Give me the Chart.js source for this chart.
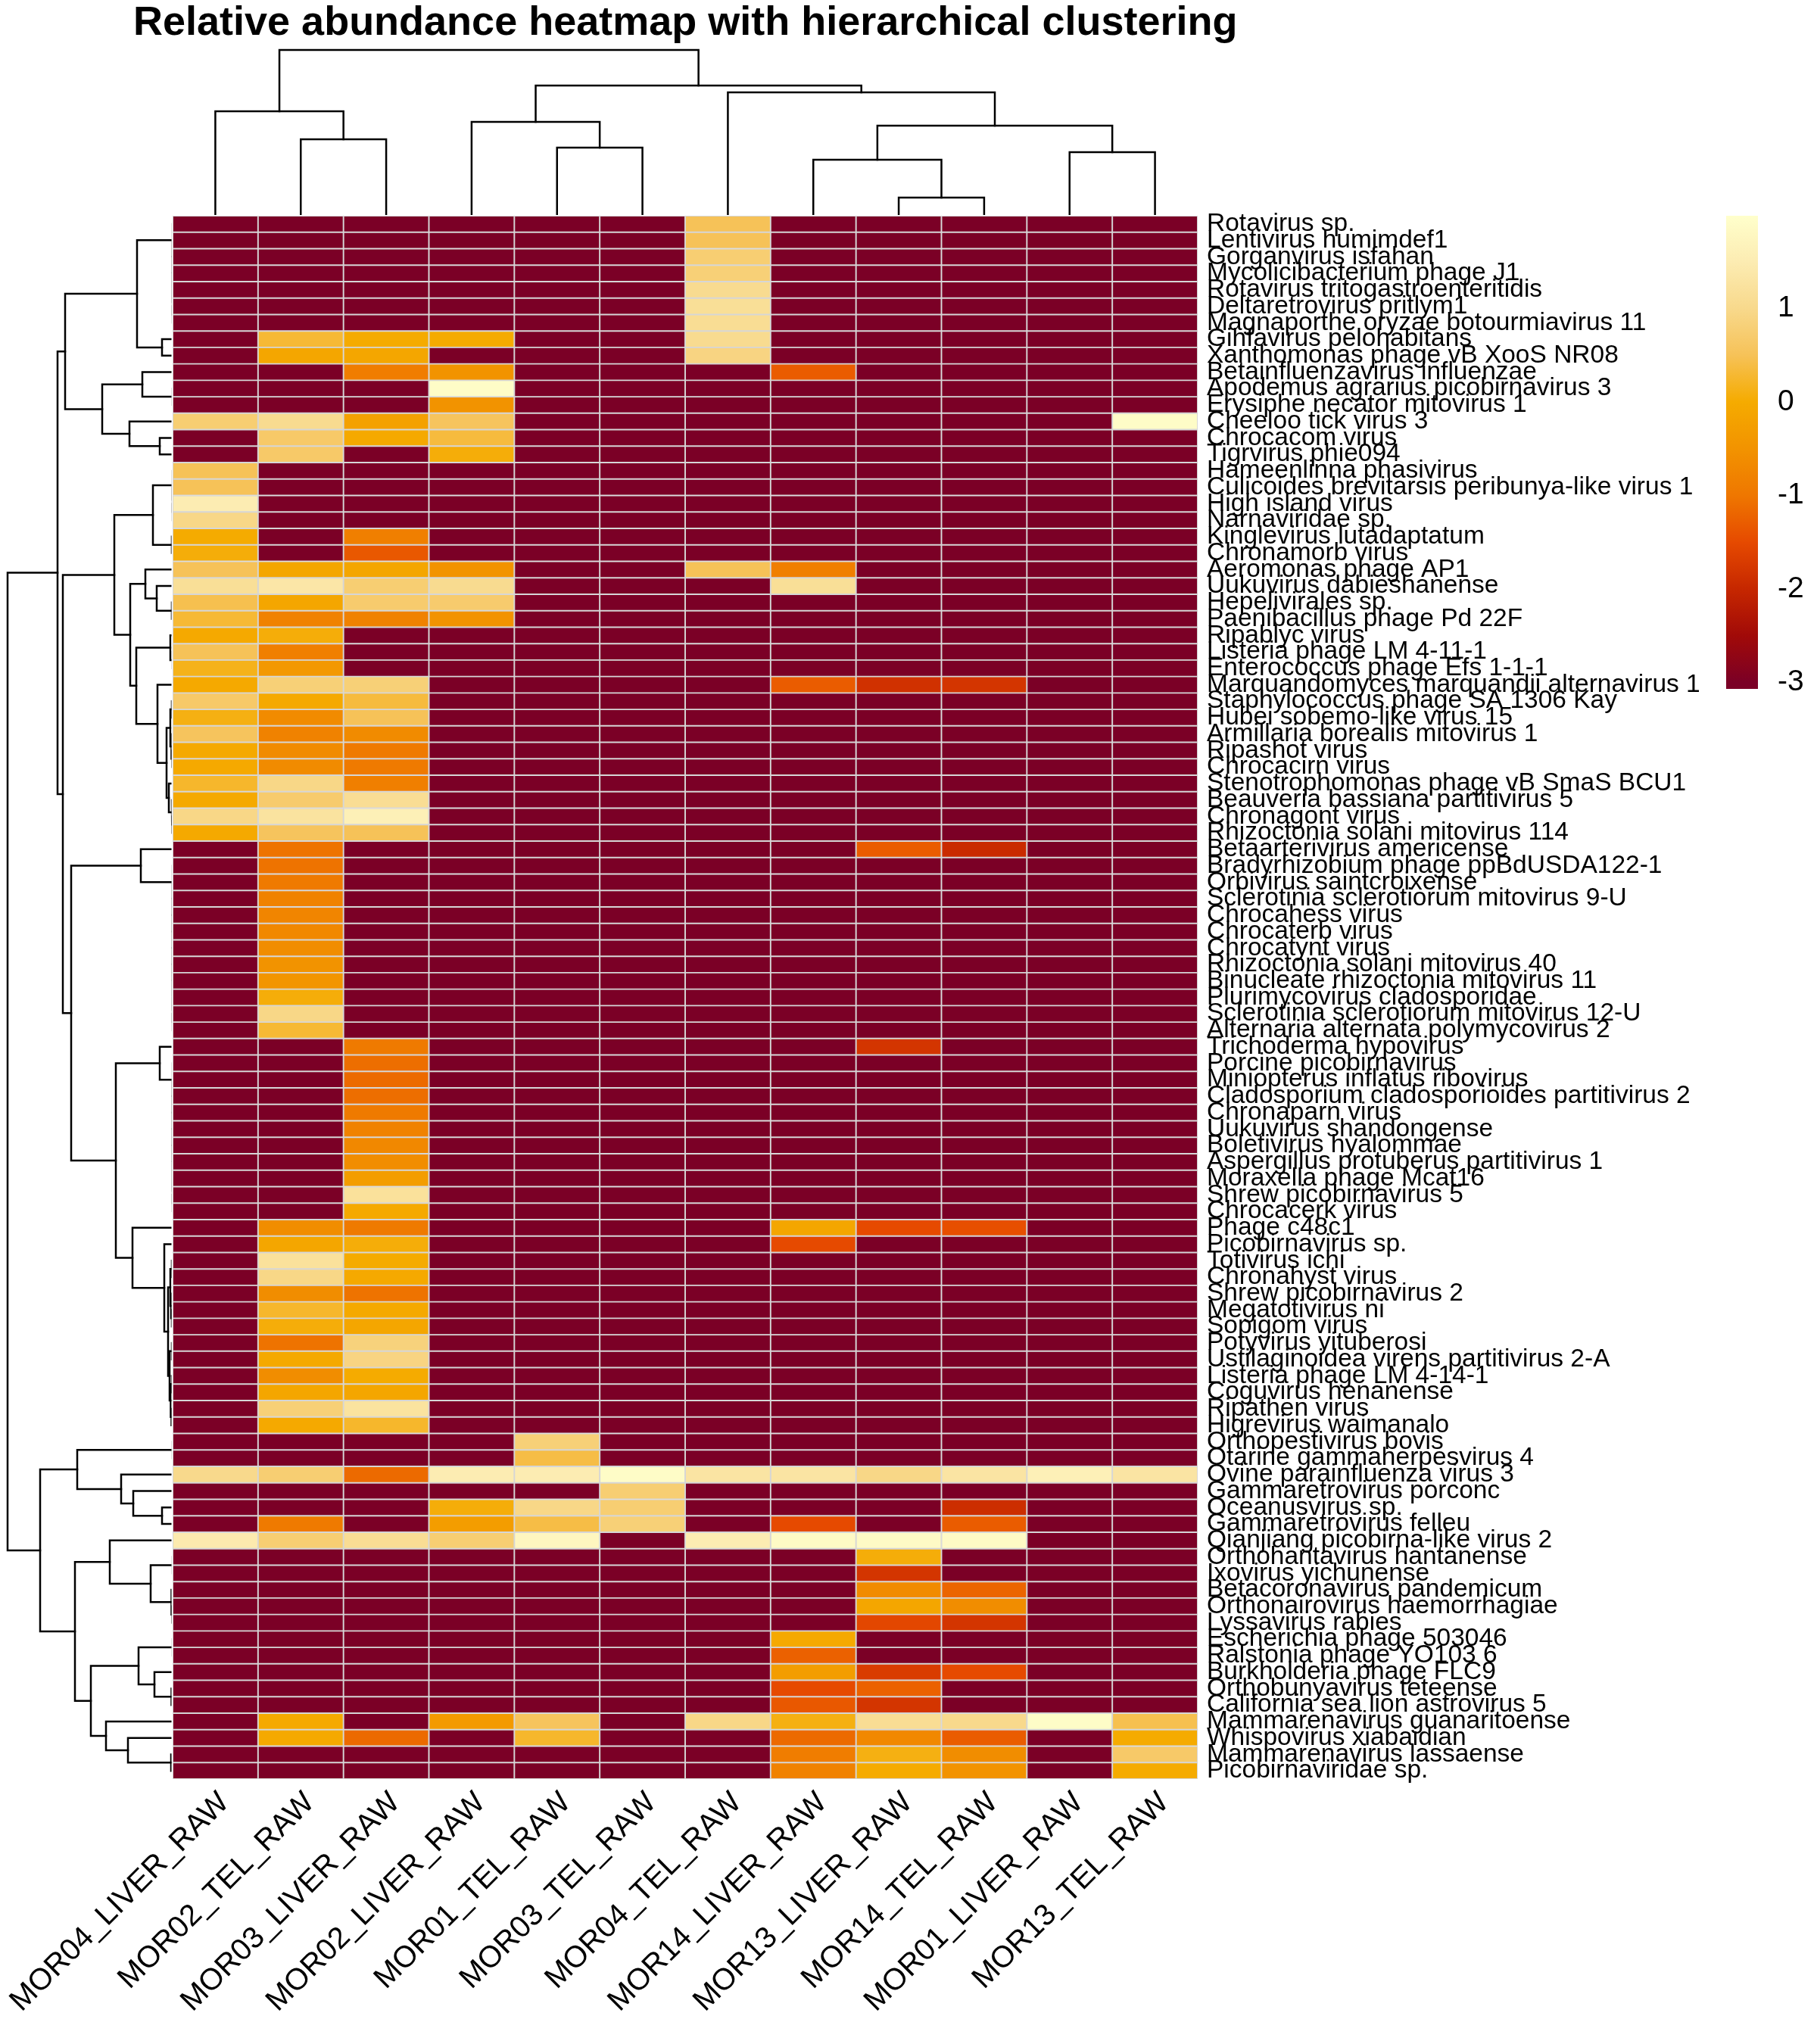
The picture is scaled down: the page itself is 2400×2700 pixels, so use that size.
<!DOCTYPE html>
<html><head><meta charset="utf-8">
<script src="https://cdn.jsdelivr.net/npm/chart.js@4.4.1/dist/chart.umd.min.js"></script>
<style>
html,body{margin:0;padding:0;background:#fff;}
#wrap{position:relative;width:2400px;height:2700px;overflow:hidden;background:#fff;}
canvas{position:absolute;}
#title{position:absolute;left:176px;top:0;font:bold 54px/54px 'Liberation Sans',Arial,sans-serif;color:#000;white-space:nowrap;}
</style></head><body>
<div id="wrap">
<canvas id="rowDendro" width="240" height="2700" style="left:0;top:0"></canvas>
<canvas id="colDendro" width="1600" height="290" style="left:0;top:0"></canvas>
<canvas id="heat" width="2400" height="2700" style="left:0;top:0"></canvas>
<canvas id="legend" width="200" height="1000" style="left:2200px;top:0"></canvas>
<div id="title">Relative abundance heatmap with hierarchical clustering</div>
</div>
<script>
const sampleLabels = ['MOR04_LIVER_RAW','MOR02_TEL_RAW','MOR03_LIVER_RAW','MOR02_LIVER_RAW','MOR01_TEL_RAW','MOR03_TEL_RAW','MOR04_TEL_RAW','MOR14_LIVER_RAW','MOR13_LIVER_RAW','MOR14_TEL_RAW','MOR01_LIVER_RAW','MOR13_TEL_RAW'];

const rowLabels = ['Rotavirus sp.','Lentivirus humimdef1','Gorganvirus isfahan','Mycolicibacterium phage J1','Rotavirus tritogastroenteritidis','Deltaretrovirus pritlym1','Magnaporthe oryzae botourmiavirus 11','Gihfavirus pelohabitans','Xanthomonas phage vB XooS NR08','Betainfluenzavirus influenzae','Apodemus agrarius picobirnavirus 3','Erysiphe necator mitovirus 1','Cheeloo tick virus 3','Chrocacom virus','Tigrvirus phie094','Hameenlinna phasivirus','Culicoides brevitarsis peribunya-like virus 1','High island virus','Narnaviridae sp.','Kinglevirus lutadaptatum','Chronamorb virus','Aeromonas phage AP1','Uukuvirus dabieshanense','Hepelivirales sp.','Paenibacillus phage Pd 22F','Ripablyc virus','Listeria phage LM 4-11-1','Enterococcus phage Efs 1-1-1','Marquandomyces marquandii alternavirus 1','Staphylococcus phage SA 1306 Kay','Hubei sobemo-like virus 15','Armillaria borealis mitovirus 1','Ripashot virus','Chrocacirn virus','Stenotrophomonas phage vB SmaS BCU1','Beauveria bassiana partitivirus 5','Chronagont virus','Rhizoctonia solani mitovirus 114','Betaarterivirus americense','Bradyrhizobium phage ppBdUSDA122-1','Orbivirus saintcroixense','Sclerotinia sclerotiorum mitovirus 9-U','Chrocahess virus','Chrocaterb virus','Chrocatynt virus','Rhizoctonia solani mitovirus 40','Binucleate rhizoctonia mitovirus 11','Plurimycovirus cladosporidae','Sclerotinia sclerotiorum mitovirus 12-U','Alternaria alternata polymycovirus 2','Trichoderma hypovirus','Porcine picobirnavirus','Miniopterus inflatus ribovirus','Cladosporium cladosporioides partitivirus 2','Chronaparn virus','Uukuvirus shandongense','Boletivirus hyalommae','Aspergillus protuberus partitivirus 1','Moraxella phage Mcat16','Shrew picobirnavirus 5','Chrocacerk virus','Phage c48c1','Picobirnavirus sp.','Totivirus ichi','Chronahyst virus','Shrew picobirnavirus 2','Megatotivirus ni','Sopigom virus','Potyvirus yituberosi','Ustilaginoidea virens partitivirus 2-A','Listeria phage LM 4-14-1','Coguvirus henanense','Ripathen virus','Higrevirus waimanalo','Orthopestivirus bovis','Otarine gammaherpesvirus 4','Ovine parainfluenza virus 3','Gammaretrovirus porconc','Oceanusvirus sp.','Gammaretrovirus felleu','Qianjiang picobirna-like virus 2','Orthohantavirus hantanense','Ixovirus yichunense','Betacoronavirus pandemicum','Orthonairovirus haemorrhagiae','Lyssavirus rabies','Escherichia phage 503046','Ralstonia phage YO103 6','Burkholderia phage FLC9','Orthobunyavirus teteense','California sea lion astrovirus 5','Mammarenavirus guanaritoense','Whispovirus xiabaidian','Mammarenavirus lassaense','Picobirnaviridae sp.'];

// one row of 12 sample values per virus (same order as rowLabels / sampleLabels)
const abundance = [
[-3,-3,-3,-3,-3,-3,0.5,-3,-3,-3,-3,-3],
[-3,-3,-3,-3,-3,-3,0.5,-3,-3,-3,-3,-3],
[-3,-3,-3,-3,-3,-3,0.75,-3,-3,-3,-3,-3],
[-3,-3,-3,-3,-3,-3,0.8,-3,-3,-3,-3,-3],
[-3,-3,-3,-3,-3,-3,1.05,-3,-3,-3,-3,-3],
[-3,-3,-3,-3,-3,-3,1.15,-3,-3,-3,-3,-3],
[-3,-3,-3,-3,-3,-3,1.1,-3,-3,-3,-3,-3],
[-3,0.3,0,0,-3,-3,1.05,-3,-3,-3,-3,-3],
[-3,-0.1,-0.1,-3,-3,-3,0.9,-3,-3,-3,-3,-3],
[-3,-3,-0.9,-0.5,-3,-3,-3,-1.3,-3,-3,-3,-3],
[-3,-3,-3,1.9,-3,-3,-3,-3,-3,-3,-3,-3],
[-3,-3,-3,-0.5,-3,-3,-3,-3,-3,-3,-3,-3],
[0.75,1.05,-0.2,0.55,-3,-3,-3,-3,-3,-3,-3,1.9],
[-3,0.65,-0.05,0.35,-3,-3,-3,-3,-3,-3,-3,-3],
[-3,0.65,-3,0.05,-3,-3,-3,-3,-3,-3,-3,-3],
[0.5,-3,-3,-3,-3,-3,-3,-3,-3,-3,-3,-3],
[0.5,-3,-3,-3,-3,-3,-3,-3,-3,-3,-3,-3],
[1.5,-3,-3,-3,-3,-3,-3,-3,-3,-3,-3,-3],
[0.95,-3,-3,-3,-3,-3,-3,-3,-3,-3,-3,-3],
[0,-3,-0.85,-3,-3,-3,-3,-3,-3,-3,-3,-3],
[0.05,-3,-1.35,-3,-3,-3,-3,-3,-3,-3,-3,-3],
[0.5,-0.1,-0.1,-0.5,-3,-3,0.5,-0.85,-3,-3,-3,-3],
[1.15,1.35,0.75,1.05,-3,-3,-3,1.15,-3,-3,-3,-3],
[0.45,-0.1,0.7,0.7,-3,-3,-3,-3,-3,-3,-3,-3],
[0.3,-0.8,-0.8,-0.5,-3,-3,-3,-3,-3,-3,-3,-3],
[-0.05,0.05,-3,-3,-3,-3,-3,-3,-3,-3,-3,-3],
[0.5,-0.85,-3,-3,-3,-3,-3,-3,-3,-3,-3,-3],
[0.15,-0.4,-3,-3,-3,-3,-3,-3,-3,-3,-3,-3],
[-0.05,0.8,0.8,-3,-3,-3,-3,-1.3,-1.85,-1.8,-3,-3],
[0.65,-0.05,0.35,-3,-3,-3,-3,-3,-3,-3,-3,-3],
[0.1,-0.65,0.5,-3,-3,-3,-3,-3,-3,-3,-3,-3],
[0.55,-0.8,-0.65,-3,-3,-3,-3,-3,-3,-3,-3,-3],
[-0.05,-0.65,-0.95,-3,-3,-3,-3,-3,-3,-3,-3,-3],
[-0.05,-0.65,-0.95,-3,-3,-3,-3,-3,-3,-3,-3,-3],
[0.25,0.95,-0.85,-3,-3,-3,-3,-3,-3,-3,-3,-3],
[-0.05,0.7,1.1,-3,-3,-3,-3,-3,-3,-3,-3,-3],
[0.95,1.25,1.6,-3,-3,-3,-3,-3,-3,-3,-3,-3],
[-0.05,0.55,0.5,-3,-3,-3,-3,-3,-3,-3,-3,-3],
[-3,-1.05,-3,-3,-3,-3,-3,-3,-1.3,-1.95,-3,-3],
[-3,-1.05,-3,-3,-3,-3,-3,-3,-3,-3,-3,-3],
[-3,-0.95,-3,-3,-3,-3,-3,-3,-3,-3,-3,-3],
[-3,-0.8,-3,-3,-3,-3,-3,-3,-3,-3,-3,-3],
[-3,-0.75,-3,-3,-3,-3,-3,-3,-3,-3,-3,-3],
[-3,-0.7,-3,-3,-3,-3,-3,-3,-3,-3,-3,-3],
[-3,-0.6,-3,-3,-3,-3,-3,-3,-3,-3,-3,-3],
[-3,-0.5,-3,-3,-3,-3,-3,-3,-3,-3,-3,-3],
[-3,-0.45,-3,-3,-3,-3,-3,-3,-3,-3,-3,-3],
[-3,0.05,-3,-3,-3,-3,-3,-3,-3,-3,-3,-3],
[-3,0.95,-3,-3,-3,-3,-3,-3,-3,-3,-3,-3],
[-3,0.3,-3,-3,-3,-3,-3,-3,-3,-3,-3,-3],
[-3,-3,-0.95,-3,-3,-3,-3,-3,-1.8,-3,-3,-3],
[-3,-3,-1.1,-3,-3,-3,-3,-3,-3,-3,-3,-3],
[-3,-3,-1.15,-3,-3,-3,-3,-3,-3,-3,-3,-3],
[-3,-3,-1.1,-3,-3,-3,-3,-3,-3,-3,-3,-3],
[-3,-3,-0.95,-3,-3,-3,-3,-3,-3,-3,-3,-3],
[-3,-3,-0.8,-3,-3,-3,-3,-3,-3,-3,-3,-3],
[-3,-3,-0.7,-3,-3,-3,-3,-3,-3,-3,-3,-3],
[-3,-3,-0.6,-3,-3,-3,-3,-3,-3,-3,-3,-3],
[-3,-3,-0.3,-3,-3,-3,-3,-3,-3,-3,-3,-3],
[-3,-3,1.2,-3,-3,-3,-3,-3,-3,-3,-3,-3],
[-3,-3,-0.05,-3,-3,-3,-3,-3,-3,-3,-3,-3],
[-3,-0.6,-0.95,-3,-3,-3,-3,-0.1,-1.5,-1.45,-3,-3],
[-3,-0.1,0.05,-3,-3,-3,-3,-1.5,-3,-3,-3,-3],
[-3,1.2,0,-3,-3,-3,-3,-3,-3,-3,-3,-3],
[-3,0.95,-0.05,-3,-3,-3,-3,-3,-3,-3,-3,-3],
[-3,-0.6,-1.05,-3,-3,-3,-3,-3,-3,-3,-3,-3],
[-3,0.25,-0.05,-3,-3,-3,-3,-3,-3,-3,-3,-3],
[-3,0.05,-0.1,-3,-3,-3,-3,-3,-3,-3,-3,-3],
[-3,-1.05,0.85,-3,-3,-3,-3,-3,-3,-3,-3,-3],
[-3,-0.05,0.9,-3,-3,-3,-3,-3,-3,-3,-3,-3],
[-3,-0.6,0,-3,-3,-3,-3,-3,-3,-3,-3,-3],
[-3,-0.1,-0.1,-3,-3,-3,-3,-3,-3,-3,-3,-3],
[-3,0.8,1.25,-3,-3,-3,-3,-3,-3,-3,-3,-3],
[-3,-0.05,0.25,-3,-3,-3,-3,-3,-3,-3,-3,-3],
[-3,-3,-3,-3,0.8,-3,-3,-3,-3,-3,-3,-3],
[-3,-3,-3,-3,0.4,-3,-3,-3,-3,-3,-3,-3],
[1.0,0.75,-1.15,1.5,1.5,1.9,1.3,1.3,0.95,1.3,1.6,1.3],
[-3,-3,-3,-3,-3,0.75,-3,-3,-3,-3,-3,-3],
[-3,-3,-3,0.05,0.95,0.75,-3,-3,-3,-1.9,-3,-3],
[-3,-0.95,-3,-0.3,0.4,0.8,-3,-1.5,-3,-1.3,-3,-3],
[1.45,0.75,1.1,0.75,1.75,-3,1.5,1.85,1.85,1.85,-3,-3],
[-3,-3,-3,-3,-3,-3,-3,-3,0.05,-3,-3,-3],
[-3,-3,-3,-3,-3,-3,-3,-3,-1.8,-3,-3,-3],
[-3,-3,-3,-3,-3,-3,-3,-3,-0.65,-1.2,-3,-3],
[-3,-3,-3,-3,-3,-3,-3,-3,-0.1,-0.6,-3,-3],
[-3,-3,-3,-3,-3,-3,-3,-3,-1.55,-1.8,-3,-3],
[-3,-3,-3,-3,-3,-3,-3,-0.05,-3,-3,-3,-3],
[-3,-3,-3,-3,-3,-3,-3,-1.25,-3,-3,-3,-3],
[-3,-3,-3,-3,-3,-3,-3,-0.3,-1.7,-1.5,-3,-3],
[-3,-3,-3,-3,-3,-3,-3,-1.5,-1.25,-3,-3,-3],
[-3,-3,-3,-3,-3,-3,-3,-1.35,-1.8,-3,-3,-3],
[-3,-0.05,-3,-0.35,0.55,-3,0.95,0.1,1.1,1.0,1.9,0.45],
[-3,-0.05,-1.15,-3,0.25,-3,-3,-1.15,-0.7,-1.3,-3,0],
[-3,-3,-3,-3,-3,-3,-3,-0.9,0.1,-0.6,-3,0.65],
[-3,-3,-3,-3,-3,-3,-3,-0.8,0,-0.5,-3,0]
];

// hclust-style merges: [left, right, height]; negative = leaf (display order), positive = earlier merge
const colMerge = [
[-9,-10,0.22],[-2,-3,0.99],[-5,-6,0.88],[-8,1,0.72],[-11,-12,0.82],[4,5,1.17],
[-1,2,1.36],[-4,3,1.22],[-7,6,1.61],[8,9,1.70],[7,10,2.17]
];
const rowMerge = [
[-6,-7,0],[-5,1,0],[-4,2,0],[-3,3,0],[-2,4,0],[-1,5,0],
[-8,-9,0.14],[6,7,0.47],[-11,-12,0],[-10,9,0.40],[-14,-15,0.17],[-13,11,0.57],
[10,12,0.93],[8,13,1.42],
[-18,-19,0],[-17,15,0],[-16,16,0],[-20,-21,0.01],[17,18,0.26],
[-24,-25,0.01],[-23,20,0.21],[-22,21,0.36],
[-27,-28,0],[-26,23,0.03],
[-30,-31,0.01],[-33,-34,0.005],[-32,26,0.015],[25,27,0.03],
[-37,-38,0.005],[-36,29,0.01],[-35,30,0.05],[28,31,0.08],[-29,32,0.20],
[24,33,0.48],[22,34,0.56],[19,35,0.77],
[-49,-50,0],[-48,37,0],[-47,38,0],[-46,39,0],[-45,40,0],[-44,41,0],[-43,42,0],[-42,43,0],[-41,44,0],[-40,45,0],[-39,46,0.42],
[-60,-61,0],[-59,48,0],[-58,49,0],[-57,50,0],[-56,51,0],[-55,52,0],[-54,53,0],[-53,54,0],[-52,55,0],[-51,56,0.17],
[-64,-65,0.01],[-67,-68,0.01],[-66,59,0.02],[58,60,0.03],
[-69,-70,0.01],[-71,-72,0.01],[-73,-74,0.015],[63,64,0.025],[62,65,0.04],[61,66,0.06],
[-63,67,0.11],[-62,68,0.53],[57,69,0.75],[47,70,1.34],[36,71,1.45],[14,72,1.52],
[-75,-76,0],[-79,-80,0.14],[-78,75,0.52],[-77,76,0.68],[74,77,1.26],
[-82,-83,0],[-85,-86,0.005],[-84,80,0.015],[79,81,0.29],[-81,82,0.83],
[-87,-88,0],[-90,-91,0.015],[-89,85,0.24],[84,86,0.45],
[-94,-95,0.02],[-93,88,0.59],[-92,89,0.88],[87,90,1.08],[83,91,1.29],
[78,92,1.75],[73,93,2.18]
];

const paletteValues = [-3.0, -2.5, -2.0, -1.5, -1.0, -0.5, 0.0, 0.5, 1.0, 1.5, 1.99];
const paletteColors = ['#7b0026','#a10a08','#c62700','#e64a00','#ef7700','#f29300','#f5ab00','#f6c258','#f8d98c','#fcecb2','#ffffcc'];
const legendTicks = [-3, -2, -1, 0, 1];
const legendMin = -3.07, legendMax = 1.99;

const FONT = "'Liberation Sans', Arial, sans-serif";
Chart.defaults.font.family = FONT;
Chart.defaults.color = '#000';

function colorFor(v) {
  const hex = c => [1,3,5].map(i => parseInt(c.slice(i, i + 2), 16));
  if (v <= paletteValues[0]) return paletteColors[0];
  for (let i = 1; i < paletteValues.length; i++) {
    if (v <= paletteValues[i]) {
      const t = (v - paletteValues[i-1]) / (paletteValues[i] - paletteValues[i-1]);
      const a = hex(paletteColors[i-1]), b = hex(paletteColors[i]);
      return 'rgb(' + a.map((x, k) => Math.round(x + (b[k] - x) * t)).join(',') + ')';
    }
  }
  return paletteColors[paletteColors.length - 1];
}

function treeSegments(merge) {
  const pos = [], hgt = [];
  const info = r => r < 0 ? {p: -r, h: 0} : {p: pos[r-1], h: hgt[r-1]};
  return merge.map(([a, b, h], i) => {
    const A = info(a), B = info(b);
    pos[i] = (A.p + B.p) / 2; hgt[i] = h;
    return [[A.h, A.p], [h, A.p], [h, B.p], [B.h, B.p]];
  });
}

const baseOpts = {responsive: false, animation: false, devicePixelRatio: 1, events: [],
  plugins: {legend: {display: false}, tooltip: {enabled: false}, title: {display: false}}};

const lineStyle = {showLine: true, pointRadius: 0, borderColor: '#000', borderWidth: 2.5,
  borderCapStyle: 'square', borderJoinStyle: 'miter', tension: 0};

// Row dendrogram (left)
new Chart(document.getElementById('rowDendro'), {
  type: 'scatter',
  data: {datasets: treeSegments(rowMerge).map(s => Object.assign({
    data: s.map(([h, p]) => ({x: h, y: p})),
    clip: {left: 10, top: 10, right: -1.5, bottom: 10}}, lineStyle))},
  options: Object.assign({}, baseOpts, {
    layout: {padding: {left: 10, right: 12, top: 285, bottom: 350}},
    scales: {
      x: {type: 'linear', min: 0, max: 2.18, reverse: true, display: false},
      y: {type: 'linear', min: 0.5, max: 95.5, reverse: true, display: false}
    }})
});

// Column dendrogram (top)
new Chart(document.getElementById('colDendro'), {
  type: 'scatter',
  data: {datasets: treeSegments(colMerge).map(s => Object.assign({
    data: s.map(([h, p]) => ({x: p, y: h})),
    clip: {left: 10, top: 10, right: 10, bottom: 1}}, lineStyle))},
  options: Object.assign({}, baseOpts, {
    layout: {padding: {left: 228, right: 18, top: 66, bottom: 7}},
    scales: {
      x: {type: 'linear', min: 0.5, max: 12.5, display: false},
      y: {type: 'linear', min: 0, max: 2.17, display: false}
    }})
});

// Heatmap
new Chart(document.getElementById('heat'), {
  type: 'bar',
  data: {
    labels: rowLabels,
    datasets: sampleLabels.map((name, c) => ({
      label: name,
      data: rowLabels.map(() => [c, c + 1]),
      backgroundColor: abundance.map(r => colorFor(r[c])),
      borderColor: '#d6d6d6',
      borderWidth: 1.3,
      borderSkipped: false,
      grouped: false,
      barPercentage: 1,
      categoryPercentage: 1
    }))
  },
  options: Object.assign({}, baseOpts, {
    indexAxis: 'y',
    layout: {padding: {left: 228, top: 285, right: 118, bottom: 20}},
    scales: {
      y: {type: 'category', position: 'right', offset: true,
        grid: {display: false, drawTicks: false}, border: {display: false},
        ticks: {autoSkip: false, font: {size: 33.5}, color: '#000', padding: 12},
        afterFit: s => { s.width = 700; s.paddingTop = 0; s.paddingBottom = 0; }},
      x: {type: 'linear', min: 0, max: 12, position: 'bottom',
        grid: {display: false, drawTicks: false}, border: {display: false},
        afterBuildTicks: s => { s.ticks = sampleLabels.map((_, i) => ({value: i + 0.5})); },
        ticks: {autoSkip: false, maxRotation: 45, minRotation: 45, font: {size: 40}, color: '#000', padding: 8,
          labelOffset: 12,
          callback: v => sampleLabels[Math.round(v - 0.5)]},
        afterFit: s => { s.height = 330; s.paddingLeft = 0; s.paddingRight = 0; }}
    }})
});

// Colour legend
new Chart(document.getElementById('legend'), {
  type: 'bar',
  data: {labels: ['scale'], datasets: [{
    data: [[legendMin, legendMax]],
    barPercentage: 1, categoryPercentage: 1, borderWidth: 0,
    backgroundColor: ctx => {
      const ch = ctx.chart; if (!ch.chartArea) return paletteColors[6];
      const ys = ch.scales.y;
      const g = ch.ctx.createLinearGradient(0, ys.getPixelForValue(legendMin), 0, ys.getPixelForValue(legendMax));
      g.addColorStop(0, paletteColors[0]);
      paletteValues.forEach((v, i) => g.addColorStop(Math.min(1, Math.max(0, (v - legendMin) / (legendMax - legendMin))), paletteColors[i]));
      return g;
    }
  }]},
  options: Object.assign({}, baseOpts, {
    layout: {padding: {left: 80, right: 0, top: 285, bottom: 90}},
    scales: {
      x: {display: false},
      y: {type: 'linear', position: 'right', min: legendMin, max: legendMax,
        grid: {display: false}, border: {display: false},
        afterBuildTicks: s => { s.ticks = legendTicks.map(v => ({value: v})); },
        ticks: {font: {size: 39}, color: '#000', padding: 18, callback: v => String(v)},
        afterFit: s => { s.width = 78; s.paddingTop = 0; s.paddingBottom = 0; }}
    }})
});
</script>
</body></html>
